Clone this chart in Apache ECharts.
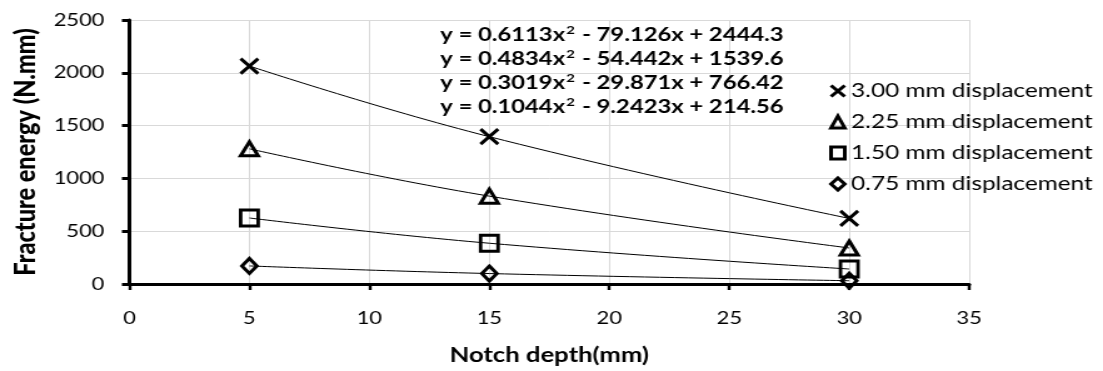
<!DOCTYPE html>
<html>
<head>
<meta charset="utf-8">
<script src="https://cdn.jsdelivr.net/npm/echarts@6/dist/echarts.min.js"></script>
<style>
  html, body { margin: 0; padding: 0; background: #fff; overflow: hidden; }
  /* the reference picture is stretched sideways, so draw narrower and stretch */
  #chart { width: 882px; height: 371px; transform: scaleX(1.2506); transform-origin: 0 0; }
</style>
</head>
<body>
<div id="chart"></div>
<script>
// data
const notchDepth = [5, 15, 30];
const seriesNames = [
  "3.00 mm displacement",
  "2.25 mm displacement",
  "1.50 mm displacement",
  "0.75 mm displacement",
];
const energy300 = [2064, 1395, 621];
const energy225 = [1280, 832, 341];
const energy150 = [625, 386, 142];
const energy075 = [171, 99, 31];
const trendEquations = [
  ["0.6113", "79.126", "2444.3"],
  ["0.4834", "54.442", "1539.6"],
  ["0.3019", "29.871", "766.42"],
  ["0.1044", "9.2423", "214.56"],
];

const FONT = "Lato";
const energies = [energy300, energy225, energy150, energy075];
const symbols = [
  { symbol: "path://M0,0L10,10M10,0L0,10", size: [14, 15] },
  { symbol: "triangle", size: 14 },
  { symbol: "rect", size: [14, 16] },
  { symbol: "diamond", size: [12, 15] },
];

const chart = echarts.init(document.getElementById("chart"), null, { renderer: "canvas" });

const toPoints = (vals) => notchDepth.map((x, i) => [x, vals[i]]);

const scatterSeries = seriesNames.map((name, k) => ({
  name,
  type: "scatter",
  data: toPoints(energies[k]),
  symbol: symbols[k].symbol,
  symbolSize: symbols[k].size,
  itemStyle: { color: "rgba(0,0,0,0)", borderColor: "#000", borderWidth: 3, opacity: 1 },
  z: 3,
}));

const trendSeries = seriesNames.map((name, k) => ({
  name: "Poly. (" + name + ")",
  type: "line",
  data: toPoints(energies[k]),
  smooth: 0.45,
  showSymbol: false,
  silent: true,
  lineStyle: { color: "#000", width: 1 },
  z: 4,
}));

const eqText = trendEquations
  .map((c) => `{b|y = ${c[0]}x}{s|2}{b| - ${c[1]}x + ${c[2]}}`)
  .join("\n");

chart.setOption({
  animation: false,
  backgroundColor: "#fff",
  textStyle: { fontFamily: FONT },
  title: {
    text: eqText,
    left: 352,
    top: 23,
    padding: 0,
    textStyle: {
      rich: {
        b: { fontFamily: FONT, fontWeight: "bold", fontSize: 19, color: "#000", lineHeight: 24 },
        s: { fontFamily: FONT, fontWeight: "bold", fontSize: 12, color: "#000", lineHeight: 24, verticalAlign: "top", padding: [1, 1, 0, 1] },
      },
    },
  },
  legend: {
    data: seriesNames,
    orient: "vertical",
    left: 663,
    top: 81,
    padding: 0,
    itemWidth: 11,
    itemHeight: 12,
    itemGap: 11,
    itemStyle: { color: "rgba(0,0,0,0)", borderColor: "#000", borderWidth: 3 },
    textStyle: { fontFamily: FONT, fontSize: 19.5, color: "#000", lineHeight: 19, padding: [0, 0, 0, 0] },
  },
  grid: { left: 99, right: 107, top: 20, bottom: 86, containLabel: false },
  xAxis: {
    type: "value",
    min: 0,
    max: 35,
    interval: 5,
    name: "Notch depth(mm)",
    nameLocation: "middle",
    nameGap: 61,
    nameTextStyle: { fontFamily: FONT, fontWeight: "bold", fontSize: 20.5, color: "#000" },
    axisLine: { lineStyle: { color: "#000", width: 3 } },
    axisTick: { show: true, length: 6, lineStyle: { color: "#000", width: 2.4 } },
    axisLabel: { fontFamily: FONT, fontSize: 17.5, color: "#000", margin: 25 },
    splitLine: { show: true, lineStyle: { color: "#d9d9d9", width: 1 } },
  },
  yAxis: {
    type: "value",
    min: 0,
    max: 2500,
    interval: 500,
    name: "Fracture energy (N.mm)",
    nameLocation: "middle",
    nameRotate: 90,
    nameGap: 70,
    nameTextStyle: { fontFamily: FONT, fontWeight: 900, fontSize: 23.5, color: "#000" },
    axisLine: { show: true, lineStyle: { color: "#000", width: 3 } },
    axisTick: { show: true, length: 6, lineStyle: { color: "#000", width: 3 } },
    axisLabel: { fontFamily: FONT, fontSize: 17.5, color: "#000", margin: 20, formatter: (v) => String(v) },
    splitLine: { show: true, lineStyle: { color: "#d9d9d9", width: 1 } },
  },
  series: [...scatterSeries, ...trendSeries],
});
</script>
</body>
</html>
